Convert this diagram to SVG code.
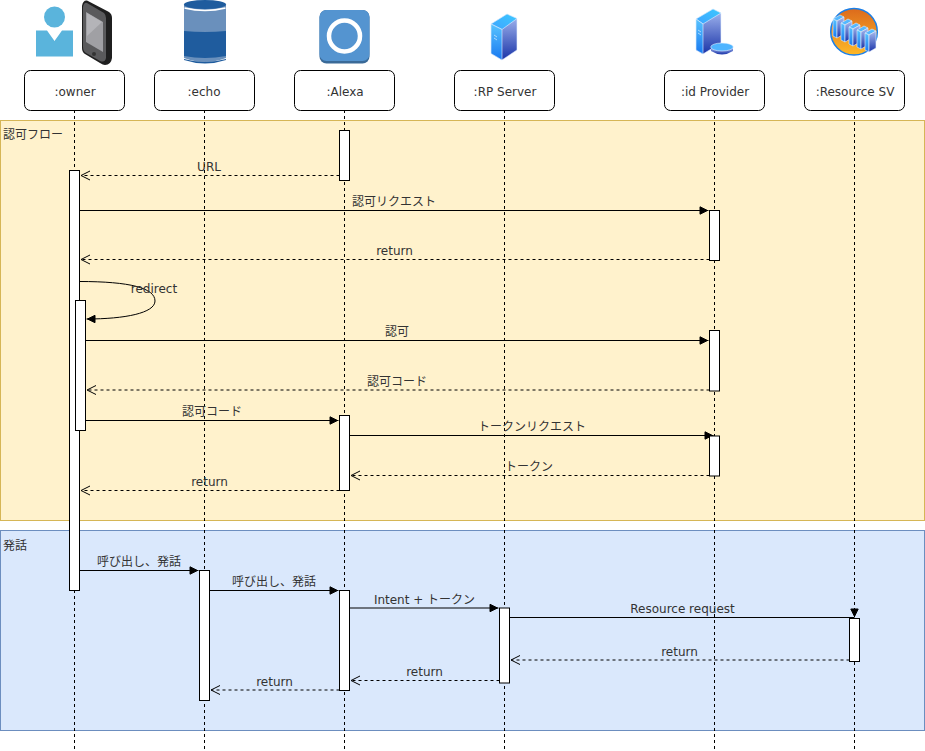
<svg xmlns="http://www.w3.org/2000/svg" xmlns:xlink="http://www.w3.org/1999/xlink" width="925" height="751" viewBox="0 0 925 751">
<style>
text{font-family:"DejaVu Sans","Noto Sans CJK JP",sans-serif;font-size:12px;fill:#333;text-anchor:middle}
.l{text-anchor:start}
.box{fill:#fff;stroke:#000;stroke-width:1}
.ll{fill:none;stroke:#000;stroke-width:1;stroke-dasharray:3 3}
.bar{fill:#fff;stroke:#000;stroke-width:1}
.sync{fill:none;stroke:#000;stroke-width:1;marker-end:url(#solid)}
.ret{fill:none;stroke:#000;stroke-width:1;stroke-dasharray:3 3;marker-end:url(#open)}
.edge{stroke:#e6f2ff;stroke-width:.6}
</style>
<defs>
<marker id="solid" markerUnits="userSpaceOnUse" markerWidth="10" markerHeight="10" refX="8" refY="4" orient="auto" overflow="visible"><path d="M-0.500 0.300L7 4L-0.500 7.700Z" fill="#000" stroke="#000"/></marker>
<marker id="open" markerUnits="userSpaceOnUse" markerWidth="10" markerHeight="10" refX="9" refY="4.500" orient="auto" overflow="visible"><path d="M0 0L9 4.500L0 9" fill="none" stroke="#000"/></marker>
<linearGradient id="srv" x1="0" y1="0" x2="0" y2="1"><stop offset="0" stop-color="#a8bcf2"/><stop offset="1" stop-color="#1a34a8"/></linearGradient>
<linearGradient id="srv2" x1="0" y1="0" x2="0" y2="1"><stop offset="0" stop-color="#58c4ff"/><stop offset="1" stop-color="#1878f0"/></linearGradient>
<linearGradient id="top" x1="0" y1="1" x2="1" y2="0"><stop offset="0" stop-color="#3ea4ff"/><stop offset="1" stop-color="#3cc8ff"/></linearGradient>
<linearGradient id="org" x1="0" y1="0" x2="0" y2="1"><stop offset="0" stop-color="#dc6a1c"/><stop offset="1" stop-color="#fdb827"/></linearGradient>
<g id="rack"><path d="M0 4L7 0L11 2L4 6Z" fill="#54b8ff" class="edge"/><path d="M0 4L4 6V23L0 21Z" fill="url(#srv2)" class="edge"/><path d="M4 6L11 2V19L4 23Z" fill="url(#srv)" class="edge"/></g>
</defs>
<rect x="0.500" y="120.500" width="924" height="400" fill="#fff2cc" stroke="#d6b656"/>
<text class="l" x="3" y="139">認可フロー</text>
<rect x="0.500" y="530.500" width="924" height="200" fill="#dae8fc" stroke="#6c8ebf"/>
<text class="l" x="3" y="550">発話</text>
<g id="lifelines">
<path class="ll" d="M74.500 110V751"/><path class="ll" d="M204.500 110V751"/><path class="ll" d="M344.500 110V751"/><path class="ll" d="M504.500 110V751"/><path class="ll" d="M714.500 110V751"/><path class="ll" d="M854.500 110V751"/>
</g>
<g id="owner">
<circle cx="54.500" cy="17" r="10.500" fill="#5ab4dc"/><path d="M36 30.500H47L54.500 41L62 30.500H73V56.500H36Z" fill="#5ab4dc"/>
<path d="M82 6Q83 0 87 0.500L109 12Q112 14 112 18V58Q111 65 105 65Q103 65 100 63L85 54Q82 52 82 48Z" fill="#1f1f1f"/>
<path d="M83 7Q84 2 87 3L104 13Q106 15 106 18V58Q105 63 100 61L86 53Q83 51 83 47Z" fill="#5a5a5c"/>
<path d="M86 12L103 22V52L86 42Z" fill="#a0a0a4"/><path d="M87 13L102 22L87 36Z" fill="#b4b4b8"/>
<circle cx="94" cy="54" r="2" fill="#333"/>
<rect class="box" x="24.500" y="70.500" width="100" height="40" rx="6"/><text x="75" y="96">:owner</text></g>
<g id="echo">
<path d="M184 5H226V58Q205 66 184 58Z" fill="#6a90bc"/>
<path d="M184 31Q205 33 226 31V56Q205 60 184 56Z" fill="#1f5c9e"/>
<path d="M184 59Q205 65 226 59V60Q205 67 184 60Z" fill="#1f5c9e"/>
<path d="M184.500 8Q205 13 225.500 8" fill="none" stroke="#fff" stroke-width="1.500"/>
<ellipse cx="205" cy="4.500" rx="21" ry="4.500" fill="#1f5c9e"/>
<rect class="box" x="154.500" y="70.500" width="100" height="40" rx="6"/><text x="204" y="96">:echo</text></g>
<g id="alexa">
<rect x="319.500" y="10" width="50" height="53.500" rx="7" fill="#3a6a98"/><rect x="319.500" y="10" width="50" height="51" rx="7" fill="#5494d0"/><circle cx="344.500" cy="36" r="15.500" fill="none" stroke="#fff" stroke-width="4.500"/>
<rect class="box" x="294.500" y="70.500" width="100" height="40" rx="6"/><text x="345" y="96">:Alexa</text></g>
<g id="rp">
<path d="M491 24L507 14L517 18.500V50L502 60L491 53.500Z" fill="url(#srv)" class="edge"/><path d="M491 24L507 14L517 18.500L502 29.500Z" fill="url(#top)" class="edge"/><path d="M491 24L502 29.500V60L491 53.500Z" fill="url(#srv2)" class="edge"/><path d="M494 35L497 37M494 38L497 40" stroke="#d8ecff" stroke-width=".7"/>
<rect class="box" x="454.500" y="70.500" width="100" height="40" rx="6"/><text x="505" y="96">:RP Server</text></g>
<g id="idp">
<path d="M696 19L713 9L721 13V43L703 54L696 50Z" fill="url(#srv)" class="edge"/><path d="M696 19L713 9L721 13L703 24Z" fill="url(#top)" class="edge"/><path d="M696 19L703 24V54L696 50Z" fill="url(#srv2)" class="edge"/><path d="M698 30L701 32M698 33L701 35" stroke="#d8ecff" stroke-width=".7"/>
<path d="M711 47V51Q722 58 733 51V47Z" fill="url(#srv)"/><ellipse cx="722" cy="47" rx="11.300" ry="4" fill="#4fb4ff" class="edge"/>
<rect class="box" x="664.500" y="70.500" width="100" height="40" rx="6"/><text x="715" y="96">:id Provider</text></g>
<g id="res">
<circle cx="854" cy="31.700" r="23.300" fill="url(#org)" stroke="#1a7fe8" stroke-width="1.500"/>
<use xlink:href="#rack" href="#rack" x="833" y="15"/><use xlink:href="#rack" href="#rack" x="841" y="19"/><use xlink:href="#rack" href="#rack" x="849" y="23"/><use xlink:href="#rack" href="#rack" x="857" y="26"/><use xlink:href="#rack" href="#rack" x="865" y="29"/>
<rect class="box" x="804.500" y="70.500" width="100" height="40" rx="6"/><text x="855" y="96">:Resource SV</text></g>
<g id="connectors">
<path class="ret" d="M339.500 175.500H81"/>
<path class="sync" d="M79.500 210.500H708.500"/>
<path class="ret" d="M709.500 259.500H81"/>
<path class="sync" stroke-width=".8" d="M79.500 281.500C130 281.500 155 288 155 301C155 313 125 319 86.500 319"/>
<path class="sync" d="M85.500 340.500H708.500"/>
<path class="ret" d="M709.500 390H87"/>
<path class="sync" d="M85.500 420.500H338.500"/>
<path class="sync" d="M349.500 435.500H713.500"/>
<path class="ret" d="M709.500 475.500H351"/>
<path class="ret" d="M339.500 490.500H81"/>
<path class="sync" d="M79.500 570.500H198.500"/>
<path class="sync" d="M209.500 590.500H338.500"/>
<path class="sync" d="M349.500 608H498.500"/>
<path class="sync" d="M509.500 617.500H854M854.500 609V617.500"/>
<path class="ret" d="M849.500 660H511"/>
<path class="ret" d="M499.500 680.500H351"/>
<path class="ret" d="M339.500 690H211"/>
</g>
<g id="bars">
<rect class="bar" x="339.500" y="130.500" width="10" height="50"/>
<rect class="bar" x="69.500" y="170.500" width="10" height="420"/>
<rect class="bar" x="75.500" y="300.500" width="10" height="130"/>
<rect class="bar" x="709.500" y="210.500" width="10" height="50"/>
<rect class="bar" x="709.500" y="330.500" width="10" height="60.500"/>
<rect class="bar" x="339.500" y="415.500" width="10" height="75"/>
<rect class="bar" x="709.500" y="436" width="10" height="40"/>
<rect class="bar" x="199.500" y="570.500" width="10" height="130"/>
<rect class="bar" x="339.500" y="590.500" width="10" height="100"/>
<rect class="bar" x="499.500" y="608" width="10" height="75"/>
<rect class="bar" x="849.500" y="618.500" width="10" height="43"/>
</g>
<g id="labels">
<text x="209" y="171">URL</text>
<text x="394" y="206">認可リクエスト</text>
<text x="394.500" y="255">return</text>
<text x="154" y="293">redirect</text>
<text x="397" y="336">認可</text>
<text x="397" y="386">認可コード</text>
<text x="212" y="416">認可コード</text>
<text x="532" y="431">トークンリクエスト</text>
<text x="529" y="471">トークン</text>
<text x="209.500" y="486">return</text>
<text x="139" y="566">呼び出し、発話</text>
<text x="274" y="586">呼び出し、発話</text>
<text x="424.500" y="604">Intent + トークン</text>
<text x="682.500" y="613">Resource request</text>
<text x="679.500" y="656">return</text>
<text x="424.500" y="676">return</text>
<text x="274.500" y="686">return</text>
</g>
</svg>
